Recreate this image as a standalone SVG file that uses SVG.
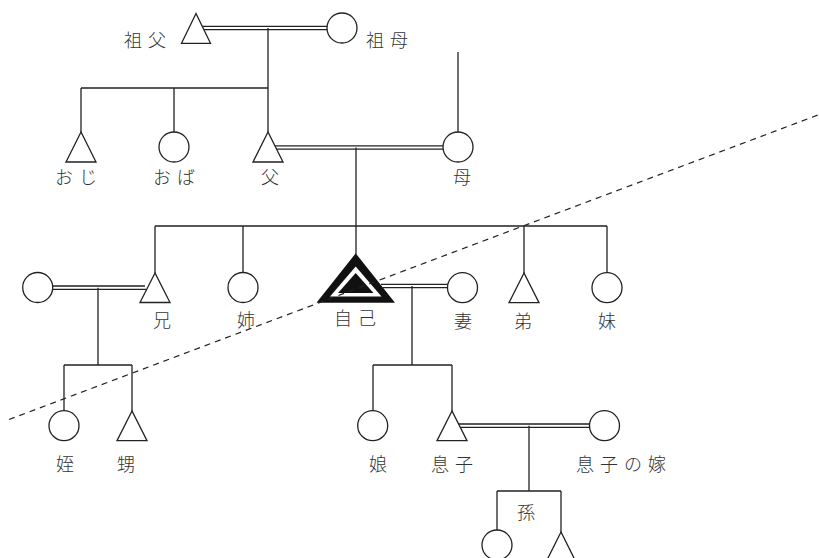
<svg xmlns="http://www.w3.org/2000/svg" width="819" height="558" viewBox="0 0 819 558">
<style>
.ln{stroke:#222;stroke-width:1.3;fill:none}
.sym{stroke:#222;stroke-width:1.3;fill:#fff}
.lb{font-family:"Noto Sans CJK JP","Noto Sans CJK SC",sans-serif;font-size:18px;fill:#333;text-anchor:middle;letter-spacing:6px;font-weight:300}
.dash{stroke:#222;stroke-width:1.2;fill:none;stroke-dasharray:6 5}
</style>
<rect width="819" height="558" fill="#fff"/>
<g id="connectors">
  <!-- grandparents marriage -->
  <path class="ln" d="M202,26.3H328M203,29.7H328"/>
  <path class="ln" d="M268,28V88M81,88H268M81,88V132M174,88V132M268,88V132"/>
  <path class="ln" d="M458,52V132"/>
  <!-- parents marriage -->
  <path class="ln" d="M274,145.8H444M275,149.2H444"/>
  <path class="ln" d="M356,147.5V226M155,226H607M155,226V273M243,226V272M356,226V254M524,226V273M607,226V273"/>
  <!-- brother marriage -->
  <path class="ln" d="M52,286H145M52,289.4H146"/>
  <path class="ln" d="M98,287.7V365M64,365H132M64,365V411M132,365V411"/>
  <!-- self marriage -->
  <path class="ln" d="M381,284.3H448M383,287.7H448"/>
  <path class="ln" d="M412,286V365M373,365H452M373,365V411M452,365V411"/>
  <!-- son marriage -->
  <path class="ln" d="M458,424H590M459,427.4H590"/>
  <path class="ln" d="M529,425.7V491M497,491H561M497,491V530M561,491V532"/>
</g>
<g id="n-sofu"><polygon class="sym" points="196,13.5 181.5,43.3 210.5,43.3"/><text class="lb" x="148" y="47">祖父</text></g>
<g id="n-sobo"><circle class="sym" cx="342" cy="28" r="15"/><text class="lb" x="390" y="47">祖母</text></g>
<g id="n-oji"><polygon class="sym" points="81,132 66,162 96,162"/><text class="lb" x="79" y="184">おじ</text></g>
<g id="n-oba"><circle class="sym" cx="174" cy="147" r="15"/><text class="lb" x="177" y="184">おば</text></g>
<g id="n-chichi"><polygon class="sym" points="268,132 253,162 283,162"/><text class="lb" x="273" y="184">父</text></g>
<g id="n-haha"><circle class="sym" cx="458" cy="147" r="15"/><text class="lb" x="465" y="184">母</text></g>
<g id="n-ani-tsuma"><circle class="sym" cx="37.7" cy="287.5" r="15"/></g>
<g id="n-ani"><polygon class="sym" points="155,273 140,302.5 170,302.5"/><text class="lb" x="165" y="327">兄</text></g>
<g id="n-ane"><circle class="sym" cx="243" cy="287.5" r="15"/><text class="lb" x="249" y="327">姉</text></g>
<g id="n-jiko">
  <polygon points="355.7,253.3 316.5,302.7 395,302.7" fill="#111"/>
  <polygon points="355.7,266.5 330,296.5 381.5,296.5" fill="#fff"/>
  <polygon points="355.7,273 338,293 373.5,293" fill="#111"/>
  <text class="lb" x="358" y="325">自己</text>
</g>
<g id="n-tsuma"><circle class="sym" cx="462.5" cy="287.7" r="15"/><text class="lb" x="466" y="328">妻</text></g>
<g id="n-otouto"><polygon class="sym" points="524,273 509,302.7 539,302.7"/><text class="lb" x="526" y="328">弟</text></g>
<g id="n-imouto"><circle class="sym" cx="607" cy="287.7" r="15"/><text class="lb" x="610" y="328">妹</text></g>
<g id="n-mei"><circle class="sym" cx="64" cy="425.7" r="15"/><text class="lb" x="68" y="471">姪</text></g>
<g id="n-oi"><polygon class="sym" points="132,411 117,440.7 147,440.7"/><text class="lb" x="129" y="471">甥</text></g>
<g id="n-musume"><circle class="sym" cx="372.7" cy="425.7" r="15"/><text class="lb" x="381" y="471">娘</text></g>
<g id="n-musuko"><polygon class="sym" points="452,411 437,440.7 467,440.7"/><text class="lb" x="455" y="471">息子</text></g>
<g id="n-yome"><circle class="sym" cx="604.5" cy="425.7" r="15"/><text class="lb" x="624" y="471">息子の嫁</text></g>
<g id="n-mago">
  <text class="lb" x="529" y="519">孫</text>
  <circle class="sym" cx="497" cy="545" r="15"/>
  <polygon class="sym" points="561,532 546,562 576,562"/>
</g>
<path class="dash" d="M9,419.5L819,114.6"/>
</svg>
